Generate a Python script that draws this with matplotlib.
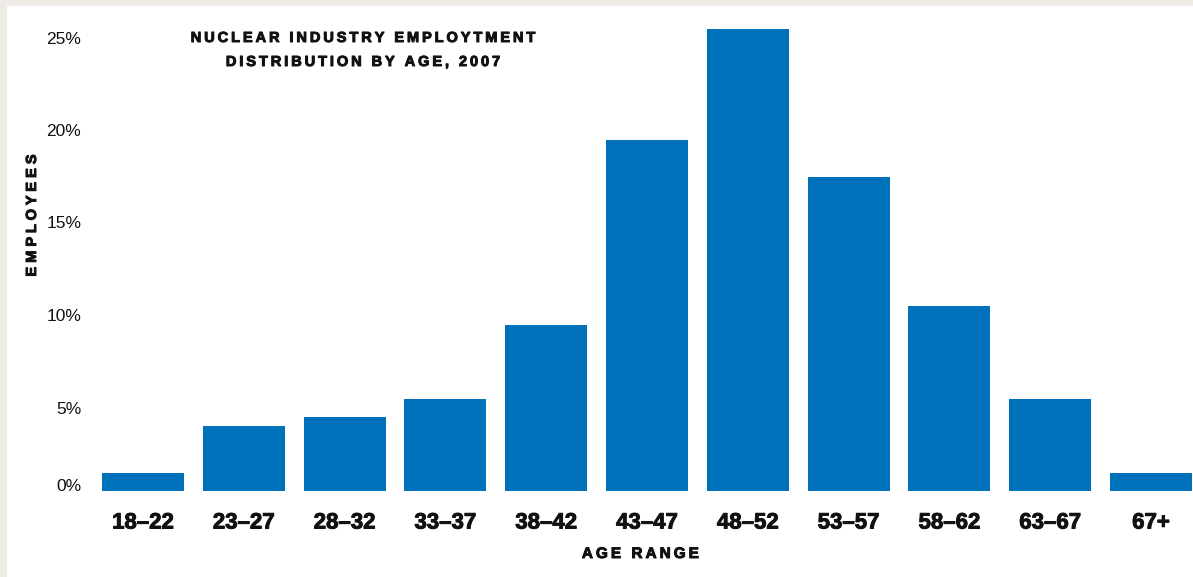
import matplotlib.pyplot as plt
import matplotlib.patheffects as pe
from matplotlib.patches import Rectangle
from matplotlib.transforms import ScaledTranslation

AGE_RANGES = ["18–22", "23–27", "28–32", "33–37", "38–42", "43–47",
              "48–52", "53–57", "58–62", "63–67", "67+"]
SHARE_PCT = [1, 3.5, 4, 5, 9, 19, 25, 17, 10, 5, 1]
Y_TICKS = [0, 5, 10, 15, 20, 25]

BLUE = "#0071BB"
INK = "#111111"
PAPER = "#EFEBE5"
FONT = ["Liberation Sans", "DejaVu Sans"]

W, H = 1193, 577
DPI = 100

# thicken the bold labels a bit, the heavy grotesque look
HEAVY = [pe.withStroke(linewidth=0.7, foreground=INK)]


def track(text, sep="\u2009"):
    # fake letter spacing by putting a thin space between characters
    return sep.join(text)


plt.rcParams["font.family"] = FONT

fig = plt.figure(figsize=(W / DPI, H / DPI), dpi=DPI, facecolor=PAPER)
fig.patches.append(Rectangle((7 / W, 0), 1, 1 - 6 / H, transform=fig.transFigure,
                             facecolor="white", edgecolor="none", zorder=-10))

# axes placed in pixels: baseline at y=491, 18.5 px per percent
left, right = 102, 1192
bottom = H - 491
ax = fig.add_axes([left / W, bottom / H, (right - left) / W, 26 * 18.5 / H])
ax.set_facecolor("none")

x = range(len(AGE_RANGES))
width = 0.813
ax.bar(x, SHARE_PCT, width=width, color=BLUE, zorder=2)
ax.set_xlim(-width / 2, len(AGE_RANGES) - 1 + width / 2)
ax.set_ylim(0, 26)

for s in ax.spines.values():
    s.set_visible(False)

ax.set_xticks(list(x))
ax.set_xticklabels(AGE_RANGES, fontsize=16, fontweight="bold", color=INK)
ax.tick_params(axis="x", length=0, pad=15.5)
for lab in ax.get_xticklabels():
    lab.set_path_effects(HEAVY)

ax.set_yticks(Y_TICKS)
ax.set_yticklabels([f"{t}%" for t in Y_TICKS], fontsize=12.5, color=INK)
ax.tick_params(axis="y", length=0, pad=15)
# percent labels hang just below their gridline value, 0% sits on the baseline
nudge = ScaledTranslation(0, -3 / DPI, fig.dpi_scale_trans)
for t, lab in zip(Y_TICKS, ax.get_yticklabels()):
    if t == 0:
        lab.set_verticalalignment("baseline")
    else:
        lab.set_verticalalignment("top")
        lab.set_transform(lab.get_transform() + nudge)

fig.text(640 / W, 1 - 554 / H, track("AGE RANGE"), ha="center", va="center",
         fontsize=11, fontweight="bold", color=INK, path_effects=HEAVY)
fig.text(32 / W, 1 - 215 / H, track("EMPLOYEES", " "), ha="center", va="center",
         rotation=90, fontsize=10.5, fontweight="bold", color=INK, path_effects=HEAVY)

fig.text(363 / W, 1 - 38 / H, track("NUCLEAR INDUSTRY EMPLOYTMENT"), ha="center",
         va="center", fontsize=10.5, fontweight="bold", color=INK, path_effects=HEAVY)
fig.text(363 / W, 1 - 62 / H, track("DISTRIBUTION BY AGE, 2007"), ha="center",
         va="center", fontsize=10.5, fontweight="bold", color=INK, path_effects=HEAVY)

fig.savefig("out.png", dpi=DPI, facecolor=PAPER)
